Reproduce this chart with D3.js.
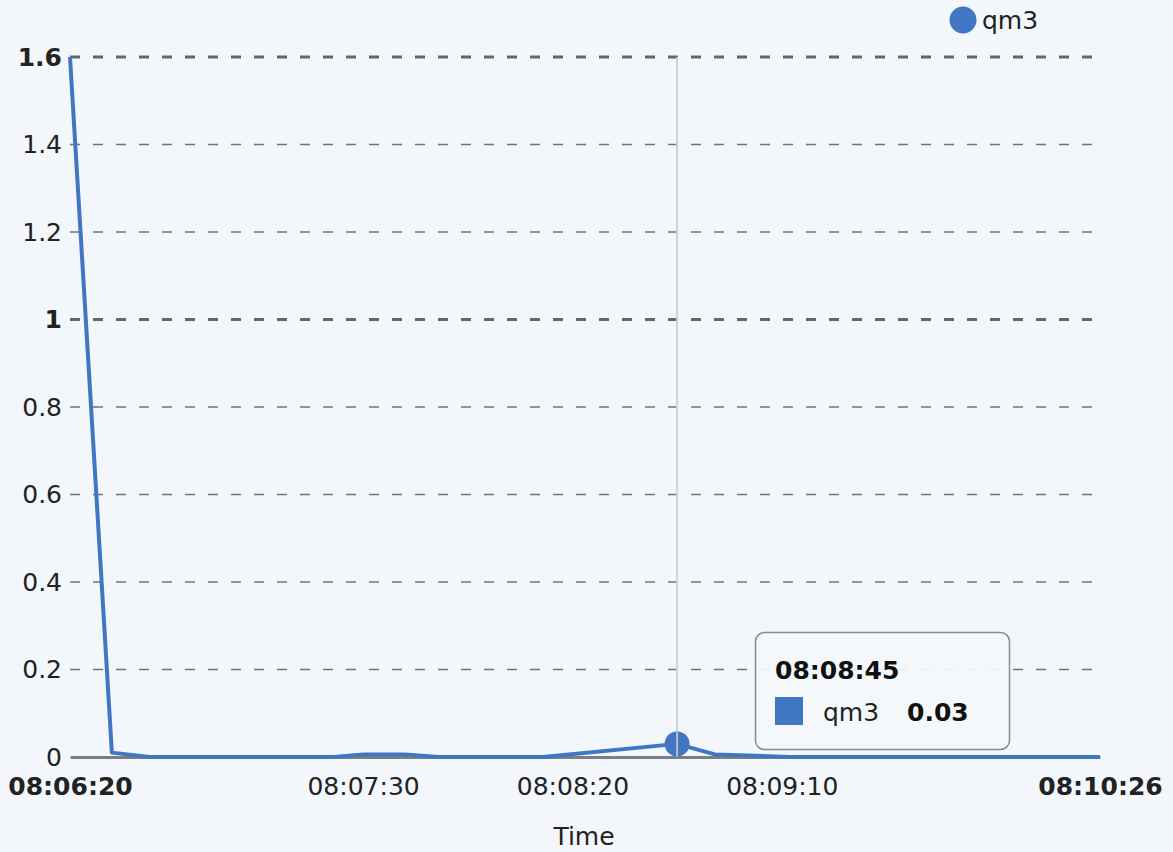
<!DOCTYPE html>
<html>
<head>
<meta charset="utf-8">
<script src="https://cdn.jsdelivr.net/npm/d3@7"></script>
<style>
  body { margin: 0; background: #f3f6fa; }
  svg { display: block; font-family: "DejaVu Sans", Verdana, sans-serif; }
</style>
</head>
<body>
<div class="chart"></div>
<script>
// series qm3
var times = ["08:06:20", "08:06:30", "08:06:39", "08:07:23", "08:07:30", "08:07:40",
             "08:07:48", "08:08:13", "08:08:45", "08:08:54", "08:09:12", "08:10:26"];
var values = [1.6, 0.01, 0, 0, 0.006, 0.006, 0, 0, 0.03, 0.006, 0, 0];
var seriesName = "qm3";

var yTicks = [0, 0.2, 0.4, 0.6, 0.8, 1, 1.2, 1.4, 1.6];
var yMajor = [1, 1.6];
var xTicks = ["08:06:20", "08:07:30", "08:08:20", "08:09:10", "08:10:26"];
var xMajor = ["08:06:20", "08:10:26"];
var hoverTime = "08:08:45";

var parse = d3.timeParse("%H:%M:%S");
var fmt = d3.timeFormat("%H:%M:%S");
var data = times.map(function(t, i) { return { t: parse(t), v: values[i] }; });

var svgWidth = 1173, svgHeight = 852;
var margin = { top: 57, bottom: 95, right: 73, left: 70 };
var width = svgWidth - margin.left - margin.right;
var height = svgHeight - margin.top - margin.bottom;
var blue = "#4176c3";

var svg = d3.select(".chart").append("svg")
  .attr("width", svgWidth)
  .attr("height", svgHeight);

var chartGroup = svg.append("g")
  .attr("transform", `translate(${margin.left}, ${margin.top})`);

var x = d3.scaleTime()
  .domain([parse(times[0]), parse(times[times.length - 1])])
  .range([0, width]);
var y = d3.scaleLinear().domain([0, 1.6]).range([height, 0]);

// grid lines
chartGroup.selectAll(".grid")
  .data(yTicks.filter(d => d > 0))
  .enter().append("line")
  .attr("x1", 0).attr("x2", width)
  .attr("y1", d => y(d)).attr("y2", d => y(d))
  .attr("stroke", d => yMajor.includes(d) ? "#5f6870" : "#6e767d")
  .attr("stroke-width", d => yMajor.includes(d) ? 3 : 1.5)
  .attr("stroke-dasharray", "10,13");

// y axis labels
var yAxis = d3.axisLeft(y).tickValues(yTicks).tickSize(0).tickPadding(8)
  .tickFormat(d3.format("~g"));
var yg = chartGroup.append("g").call(yAxis);
yg.select(".domain").remove();
yg.selectAll("text")
  .attr("font-size", 25)
  .attr("font-family", "DejaVu Sans, Verdana, sans-serif")
  .attr("fill", "#222")
  .attr("font-weight", d => yMajor.includes(d) ? "bold" : "normal");

// x axis
var xAxis = d3.axisBottom(x).tickValues(xTicks.map(parse)).tickSize(0).tickPadding(20)
  .tickFormat(fmt);
var xg = chartGroup.append("g")
  .attr("transform", `translate(0, ${height})`)
  .call(xAxis);
xg.select(".domain").attr("stroke", "#7a7f84").attr("stroke-width", 3);
xg.selectAll("text")
  .attr("font-size", 25)
  .attr("font-family", "DejaVu Sans, Verdana, sans-serif")
  .attr("fill", "#222")
  .attr("font-weight", d => xMajor.includes(fmt(d)) ? "bold" : "normal");

chartGroup.append("text")
  .attr("x", width / 2 - 1)
  .attr("y", height + 88)
  .attr("text-anchor", "middle")
  .attr("font-size", 25)
  .attr("fill", "#222")
  .text("Time");

// crosshair
var hx = x(parse(hoverTime));
chartGroup.append("line")
  .attr("x1", hx).attr("x2", hx)
  .attr("y1", 0).attr("y2", height)
  .attr("stroke", "#cfd3d7").attr("stroke-width", 2);

// line
var line = d3.line().x(d => x(d.t)).y(d => y(d.v));
chartGroup.append("path")
  .datum(data)
  .attr("fill", "none")
  .attr("stroke", blue)
  .attr("stroke-width", 4)
  .attr("stroke-linejoin", "round")
  .attr("d", line);

var hp = data.find(d => fmt(d.t) === hoverTime);
chartGroup.append("circle")
  .attr("cx", x(hp.t)).attr("cy", y(hp.v))
  .attr("r", 12.5)
  .attr("fill", blue);
chartGroup.append("line")
  .attr("x1", hx).attr("x2", hx)
  .attr("y1", y(hp.v) - 12).attr("y2", y(hp.v) + 12)
  .attr("stroke", "#cfd3d7").attr("stroke-width", 2).attr("opacity", 0.8);

// tooltip
var tip = svg.append("g").attr("transform", "translate(755, 632)");
tip.append("rect")
  .attr("x", 0.5).attr("y", 0.5)
  .attr("width", 254).attr("height", 117)
  .attr("rx", 9)
  .attr("fill", "#f4f7fa").attr("fill-opacity", 0.93)
  .attr("stroke", "#8a8d90").attr("stroke-width", 1.5);
tip.append("text")
  .attr("x", 20).attr("y", 47)
  .attr("font-size", 25).attr("font-weight", "bold").attr("fill", "#111")
  .text(fmt(hp.t));
tip.append("rect")
  .attr("x", 20).attr("y", 65)
  .attr("width", 28).attr("height", 28)
  .attr("fill", blue);
tip.append("text")
  .attr("x", 68).attr("y", 89)
  .attr("font-size", 25).attr("fill", "#222")
  .text(seriesName);
tip.append("text")
  .attr("x", 152).attr("y", 89)
  .attr("font-size", 25).attr("font-weight", "bold").attr("fill", "#111")
  .text(d3.format(".2f")(hp.v));

// legend
var legend = svg.append("g").attr("transform", "translate(963, 20)");
legend.append("circle").attr("r", 13.5).attr("fill", blue);
legend.append("text")
  .attr("x", 19).attr("y", 9)
  .attr("font-size", 25).attr("fill", "#222")
  .text(seriesName);
</script>
</body>
</html>
